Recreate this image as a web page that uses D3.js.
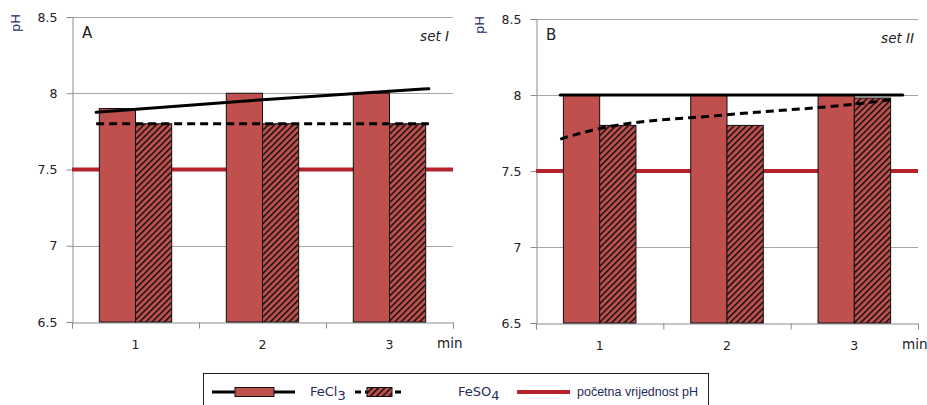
<!DOCTYPE html>
<html><head><meta charset="utf-8">
<script src="https://cdn.jsdelivr.net/npm/d3@7"></script>
<style>
body{margin:0;background:#fff;}
svg{display:block;font-family:"DejaVu Sans",sans-serif;}
</style></head>
<body><svg id="c" width="927" height="405"></svg>
<script>
// ---- data ----
const categories = ["1", "2", "3"];
const yTicks = [6.5, 7, 7.5, 8, 8.5];
const yTickLabels = ["6.5", "7", "7.5", "8", "8.5"];
const initialPH = 7.5;

const setI_FeCl3 = [7.9, 8.0, 8.0];
const setI_FeSO4 = [7.8, 7.8, 7.8];
const setII_FeCl3 = [8.0, 8.0, 8.0];
const setII_FeSO4 = [7.8, 7.8, 7.98];

// trend lines: [category position, pH]
const setI_FeCl3_trend = [[0.69, 7.875], [2, 7.958], [3.31, 8.03]];
const setI_FeSO4_trend = [[0.69, 7.8], [3.31, 7.8]];
const setII_FeCl3_trend = [[0.69, 8.0], [3.38, 8.0]];
const setII_FeSO4_trend = [[0.69, 7.71], [1, 7.78], [2, 7.87], [3, 7.94], [3.3, 7.97]];

const panelLabels = ["A", "B"];
const setLabels = ["set I", "set II"];
const legendLabels = ["FeCl", "FeSO", "početna vrijednost pH"];

// ---- drawing ----
const svg = d3.select("#c");
const barColor = "#c0504d";
const redLine = "#b5222b";
const textCol = "#222";

const defs = svg.append("defs");
const pat = defs.append("pattern").attr("id", "hatch").attr("patternUnits", "userSpaceOnUse")
  .attr("width", 4.4).attr("height", 4.4).attr("patternTransform", "rotate(45)");
pat.append("rect").attr("width", 4.4).attr("height", 4.4).attr("fill", barColor);
pat.append("rect").attr("width", 1.5).attr("height", 4.4).attr("fill", "#111");

function panel(cfg) {
  const g = svg.append("g");
  const y = d3.scaleLinear().domain([6.5, 8.5]).range([cfg.bottom, cfg.top]);
  const x = d3.scaleBand().domain(categories).range([cfg.left, cfg.right])
    .paddingInner(0.43).paddingOuter(0.215);
  const xs = d3.scaleBand().domain(["FeCl3", "FeSO4"]).range([0, x.bandwidth()]);
  const xl = d3.scaleLinear().domain([0.5, 3.5]).range([cfg.left, cfg.right]);

  // gridlines
  g.selectAll(".grid").data(yTicks.slice(1)).join("line")
    .attr("x1", cfg.left).attr("x2", cfg.right)
    .attr("y1", d => Math.round(y(d)) + 0.5).attr("y2", d => Math.round(y(d)) + 0.5)
    .attr("stroke", "#a6a6a6").attr("stroke-width", 1);

  // y axis
  const ya = g.append("g").attr("transform", `translate(${cfg.left + 0.5},0)`)
    .call(d3.axisLeft(y).tickValues(yTicks).tickFormat((d, i) => yTickLabels[i]).tickSize(6).tickPadding(9));
  ya.select(".domain").attr("stroke", "#8c8c8c");
  ya.selectAll(".tick line").attr("stroke", "#8c8c8c");
  ya.selectAll(".tick text").attr("fill", textCol).attr("font-size", 12.5).attr("font-family", "DejaVu Sans");

  // x axis
  const xa = g.append("g").attr("transform", `translate(0,${Math.round(cfg.bottom) + 0.5})`)
    .call(d3.axisBottom(xl).tickValues([0.5, 1.5, 2.5, 3.5]).tickFormat("").tickSize(6));
  xa.select(".domain").attr("stroke", "#8c8c8c");
  xa.selectAll(".tick line").attr("stroke", "#8c8c8c");
  g.selectAll(".xlab").data(categories).join("text")
    .attr("x", d => x(d) + x.bandwidth() / 2).attr("y", cfg.bottom + 27)
    .attr("text-anchor", "middle").attr("font-size", 12.5).attr("fill", textCol).text(d => d);
  g.append("text").attr("x", cfg.right - 16).attr("y", cfg.bottom + 26)
    .attr("font-size", 13.5).attr("fill", textCol).text("min");

  // initial pH line
  g.append("line").attr("x1", cfg.left).attr("x2", cfg.right)
    .attr("y1", y(initialPH)).attr("y2", y(initialPH))
    .attr("stroke", redLine).attr("stroke-width", 4);

  // bars
  const rows = categories.map((c, i) => ({c, a: cfg.fecl3[i], b: cfg.feso4[i]}));
  g.selectAll(".b1").data(rows).join("rect")
    .attr("x", d => x(d.c) + xs("FeCl3")).attr("width", xs.bandwidth())
    .attr("y", d => y(d.a)).attr("height", d => y(6.5) - y(d.a))
    .attr("fill", barColor).attr("stroke", "#111").attr("stroke-width", 1);
  g.selectAll(".b2").data(rows).join("rect")
    .attr("x", d => x(d.c) + xs("FeSO4")).attr("width", xs.bandwidth())
    .attr("y", d => y(d.b)).attr("height", d => y(6.5) - y(d.b))
    .attr("fill", "url(#hatch)").attr("stroke", "#111").attr("stroke-width", 1);

  // trend lines
  const line = d3.line().x(d => xl(d[0])).y(d => y(d[1])).curve(d3.curveMonotoneX);
  g.append("path").attr("d", line(cfg.t1)).attr("fill", "none")
    .attr("stroke", "#000").attr("stroke-width", 3).attr("stroke-linecap", "round");
  g.append("path").attr("d", line(cfg.t2)).attr("fill", "none")
    .attr("stroke", "#000").attr("stroke-width", 3).attr("stroke-dasharray", "8,5");

  // labels
  g.append("text").attr("transform", `translate(${cfg.left - 52},${cfg.top + 6}) rotate(-90)`)
    .attr("text-anchor", "middle").attr("font-size", 13).attr("fill", "#1f2a6b").text("pH");
  g.append("text").attr("x", cfg.left + 10).attr("y", cfg.top + 21)
    .attr("font-size", 15).attr("fill", textCol).text(cfg.label);
  g.append("text").attr("x", cfg.right - 4).attr("y", cfg.top + 24).attr("text-anchor", "end")
    .attr("font-size", 13.5).attr("font-style", "italic").attr("fill", textCol).text(cfg.set);
}

panel({left: 72, right: 453, top: 17, bottom: 322, label: panelLabels[0], set: setLabels[0],
  fecl3: setI_FeCl3, feso4: setI_FeSO4, t1: setI_FeCl3_trend, t2: setI_FeSO4_trend});
panel({left: 536, right: 918, top: 19, bottom: 323, label: panelLabels[1], set: setLabels[1],
  fecl3: setII_FeCl3, feso4: setII_FeSO4, t1: setII_FeCl3_trend, t2: setII_FeSO4_trend});

// legend
const lg = svg.append("g");
lg.append("rect").attr("x", 203.5).attr("y", 373.5).attr("width", 505).attr("height", 40)
  .attr("fill", "#fff").attr("stroke", "#222").attr("stroke-width", 1);
const ly = 392;
lg.append("line").attr("x1", 212).attr("x2", 295).attr("y1", ly).attr("y2", ly).attr("stroke", "#000").attr("stroke-width", 3);
lg.append("rect").attr("x", 235).attr("y", ly - 4.5).attr("width", 39).attr("height", 9)
  .attr("fill", barColor).attr("stroke", "#111");
const t1 = lg.append("text").attr("x", 310).attr("y", ly + 4).attr("font-size", 13).attr("fill", "#1f2a5a");
t1.append("tspan").text(legendLabels[0]);
t1.append("tspan").attr("dy", 4).text("3");
lg.append("line").attr("x1", 355).attr("x2", 404).attr("y1", ly).attr("y2", ly).attr("stroke", "#000")
  .attr("stroke-width", 3).attr("stroke-dasharray", "6,4");
lg.append("rect").attr("x", 367).attr("y", ly - 4.5).attr("width", 25).attr("height", 9)
  .attr("fill", "url(#hatch)").attr("stroke", "#111");
const t2 = lg.append("text").attr("x", 458).attr("y", ly + 4).attr("font-size", 13).attr("fill", "#1f2a5a");
t2.append("tspan").text(legendLabels[1]);
t2.append("tspan").attr("dy", 4).text("4");
lg.append("line").attr("x1", 517).attr("x2", 570).attr("y1", ly).attr("y2", ly).attr("stroke", redLine).attr("stroke-width", 4);
lg.append("text").attr("x", 577).attr("y", ly + 4).attr("font-size", 12.5).attr("fill", "#1f2a5a")
  .attr("font-family", "Liberation Sans Narrow, Liberation Sans").text(legendLabels[2]);
</script></body></html>
